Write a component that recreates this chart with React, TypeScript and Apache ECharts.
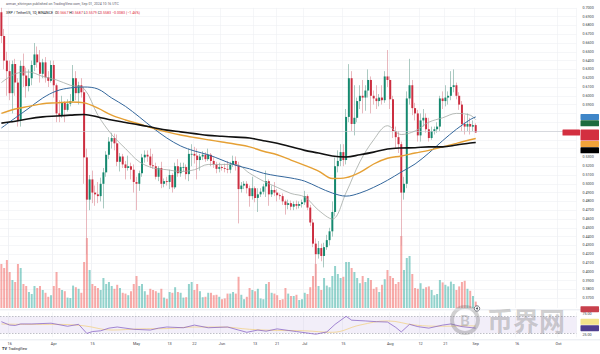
import React, { useEffect, useRef } from "react";
import * as echarts from "echarts";

// ---------- categories (daily) ----------
const FIRST_DAY = "2024-03-13";
const DAY_COUNT = 209; // through 2024-10-07 (empty space on the right)

// ---------- time-axis ticks ----------
const tickDates = ["2024-03-16", "2024-04-01", "2024-04-15", "2024-05-01", "2024-05-13", "2024-05-22", "2024-06-01", "2024-06-13", "2024-06-21", "2024-07-01", "2024-07-15", "2024-08-01", "2024-08-12", "2024-08-21", "2024-09-01", "2024-09-16", "2024-10-01"];
const tickLabels = ["16", "Apr", "15", "May", "13", "22", "Jun", "13", "21", "Jul", "15", "Aug", "12", "21", "Sep", "16", "Oct"];

// ---------- candles [open, close, low, high] ----------
const candlesMar = [
  [0.695, 0.668, 0.660, 0.700], [0.668, 0.640, 0.630, 0.676], [0.640, 0.628, 0.600, 0.650], [0.628, 0.603, 0.595, 0.640],
  [0.603, 0.636, 0.580, 0.640], [0.636, 0.615, 0.600, 0.642], [0.615, 0.572, 0.565, 0.620], [0.572, 0.634, 0.565, 0.640],
  [0.634, 0.623, 0.610, 0.648], [0.623, 0.611, 0.598, 0.632], [0.611, 0.620, 0.605, 0.630], [0.620, 0.635, 0.612, 0.640],
  [0.635, 0.647, 0.628, 0.660], [0.647, 0.638, 0.632, 0.656], [0.638, 0.625, 0.615, 0.652], [0.625, 0.638, 0.620, 0.642],
  [0.638, 0.621, 0.615, 0.644], [0.621, 0.617, 0.610, 0.628], [0.617, 0.635, 0.615, 0.640],
];
const candlesApr = [
  [0.635, 0.612, 0.598, 0.640], [0.612, 0.580, 0.570, 0.614], [0.580, 0.578, 0.570, 0.595], [0.578, 0.592, 0.575, 0.600],
  [0.592, 0.584, 0.570, 0.594], [0.584, 0.591, 0.582, 0.596], [0.591, 0.594, 0.588, 0.602], [0.594, 0.620, 0.592, 0.635],
  [0.620, 0.603, 0.595, 0.628], [0.603, 0.612, 0.590, 0.616], [0.612, 0.604, 0.598, 0.620], [0.604, 0.530, 0.500, 0.610],
  [0.530, 0.482, 0.420, 0.540], [0.482, 0.505, 0.470, 0.510], [0.505, 0.490, 0.478, 0.515], [0.490, 0.488, 0.475, 0.498],
  [0.488, 0.486, 0.478, 0.502], [0.486, 0.500, 0.480, 0.507], [0.500, 0.513, 0.472, 0.518], [0.513, 0.533, 0.508, 0.537],
  [0.533, 0.548, 0.528, 0.553], [0.548, 0.552, 0.540, 0.558], [0.552, 0.546, 0.538, 0.557], [0.546, 0.525, 0.520, 0.556],
  [0.525, 0.531, 0.514, 0.535], [0.531, 0.522, 0.518, 0.534], [0.522, 0.518, 0.505, 0.526], [0.518, 0.520, 0.515, 0.532],
  [0.520, 0.516, 0.505, 0.524], [0.516, 0.502, 0.490, 0.522],
];
const candlesMay = [
  [0.502, 0.500, 0.470, 0.508], [0.500, 0.512, 0.492, 0.515], [0.512, 0.530, 0.508, 0.534], [0.530, 0.533, 0.524, 0.538],
  [0.533, 0.531, 0.525, 0.538], [0.531, 0.521, 0.518, 0.540], [0.521, 0.520, 0.517, 0.534], [0.520, 0.508, 0.505, 0.524],
  [0.508, 0.518, 0.503, 0.520], [0.518, 0.500, 0.495, 0.525], [0.500, 0.503, 0.496, 0.506], [0.503, 0.502, 0.498, 0.508],
  [0.502, 0.510, 0.494, 0.516], [0.510, 0.496, 0.490, 0.512], [0.496, 0.520, 0.494, 0.524], [0.520, 0.512, 0.508, 0.528],
  [0.512, 0.519, 0.508, 0.524], [0.519, 0.519, 0.514, 0.524], [0.519, 0.511, 0.505, 0.522], [0.511, 0.534, 0.503, 0.540],
  [0.534, 0.534, 0.520, 0.545], [0.534, 0.532, 0.523, 0.542], [0.532, 0.527, 0.505, 0.540], [0.527, 0.531, 0.515, 0.534],
  [0.531, 0.533, 0.527, 0.537], [0.533, 0.528, 0.525, 0.536], [0.528, 0.533, 0.526, 0.540], [0.533, 0.526, 0.520, 0.535],
  [0.526, 0.522, 0.518, 0.530], [0.522, 0.517, 0.512, 0.525], [0.517, 0.519, 0.513, 0.524],
];
const candlesJun = [
  [0.519, 0.518, 0.515, 0.521], [0.518, 0.517, 0.513, 0.523], [0.517, 0.516, 0.512, 0.526], [0.516, 0.522, 0.512, 0.525],
  [0.522, 0.526, 0.519, 0.532], [0.526, 0.521, 0.515, 0.531], [0.521, 0.494, 0.455, 0.525], [0.494, 0.498, 0.490, 0.502],
  [0.498, 0.500, 0.494, 0.503], [0.500, 0.495, 0.489, 0.503], [0.495, 0.486, 0.474, 0.498], [0.486, 0.495, 0.482, 0.508],
  [0.495, 0.484, 0.479, 0.497], [0.484, 0.488, 0.468, 0.495], [0.488, 0.491, 0.485, 0.495], [0.491, 0.497, 0.488, 0.500],
  [0.497, 0.503, 0.485, 0.515], [0.503, 0.488, 0.475, 0.505], [0.488, 0.493, 0.485, 0.498], [0.493, 0.490, 0.486, 0.502],
  [0.490, 0.487, 0.480, 0.494], [0.487, 0.486, 0.482, 0.489], [0.486, 0.480, 0.476, 0.489], [0.480, 0.476, 0.465, 0.482],
  [0.476, 0.478, 0.471, 0.482], [0.478, 0.474, 0.470, 0.481], [0.474, 0.477, 0.470, 0.480], [0.477, 0.475, 0.471, 0.481],
  [0.475, 0.477, 0.472, 0.480], [0.477, 0.479, 0.473, 0.482],
];
const candlesJul = [
  [0.479, 0.486, 0.476, 0.492], [0.486, 0.473, 0.470, 0.488], [0.473, 0.456, 0.452, 0.476], [0.456, 0.432, 0.428, 0.460],
  [0.432, 0.420, 0.383, 0.438], [0.420, 0.427, 0.415, 0.435], [0.427, 0.418, 0.412, 0.432], [0.418, 0.428, 0.405, 0.433],
  [0.428, 0.436, 0.425, 0.442], [0.436, 0.446, 0.430, 0.450], [0.446, 0.468, 0.440, 0.480], [0.468, 0.520, 0.463, 0.530],
  [0.520, 0.526, 0.513, 0.538], [0.526, 0.536, 0.520, 0.545], [0.536, 0.527, 0.520, 0.545], [0.527, 0.576, 0.522, 0.585],
  [0.576, 0.620, 0.570, 0.636], [0.620, 0.568, 0.560, 0.628], [0.568, 0.575, 0.555, 0.612], [0.575, 0.594, 0.570, 0.598],
  [0.594, 0.600, 0.585, 0.612], [0.600, 0.598, 0.580, 0.618], [0.598, 0.606, 0.583, 0.612], [0.606, 0.618, 0.598, 0.630],
  [0.618, 0.600, 0.580, 0.622], [0.600, 0.597, 0.590, 0.606], [0.597, 0.594, 0.585, 0.612], [0.594, 0.598, 0.588, 0.602],
  [0.598, 0.595, 0.590, 0.612], [0.595, 0.622, 0.592, 0.628], [0.622, 0.618, 0.610, 0.652],
];
const candlesAug = [
  [0.618, 0.596, 0.585, 0.622], [0.596, 0.560, 0.552, 0.600], [0.560, 0.553, 0.540, 0.565], [0.553, 0.545, 0.535, 0.560],
  [0.545, 0.490, 0.430, 0.548], [0.490, 0.500, 0.482, 0.508], [0.500, 0.597, 0.495, 0.605], [0.597, 0.612, 0.590, 0.642],
  [0.612, 0.586, 0.578, 0.618], [0.586, 0.580, 0.572, 0.592], [0.580, 0.555, 0.548, 0.584], [0.555, 0.572, 0.548, 0.580],
  [0.572, 0.575, 0.565, 0.585], [0.575, 0.562, 0.558, 0.580], [0.562, 0.552, 0.548, 0.575], [0.552, 0.560, 0.550, 0.565],
  [0.560, 0.562, 0.556, 0.565], [0.562, 0.565, 0.558, 0.570], [0.565, 0.597, 0.560, 0.600], [0.597, 0.594, 0.585, 0.605],
  [0.594, 0.598, 0.588, 0.612], [0.598, 0.600, 0.590, 0.605], [0.600, 0.610, 0.595, 0.628], [0.610, 0.612, 0.604, 0.630],
  [0.612, 0.600, 0.596, 0.615], [0.600, 0.590, 0.584, 0.604], [0.590, 0.568, 0.560, 0.594], [0.568, 0.565, 0.556, 0.578],
  [0.565, 0.568, 0.560, 0.580], [0.568, 0.565, 0.556, 0.575], [0.565, 0.5666, 0.560, 0.572],
];
const candlesSep = [[0.5667, 0.5583, 0.5579, 0.5687]];

// ---------- volume (millions) ----------
const volumesMar = [1100, 1000, 1200, 900, 700, 650, 1100, 1000, 600, 550, 400, 350, 550, 500, 550, 450, 380, 280, 320];
const volumesApr = [550, 900, 500, 450, 420, 260, 250, 560, 520, 480, 380, 1150, 1750, 950, 600, 550, 500, 450, 750, 600, 650, 550, 480, 580, 500, 380, 360, 320, 420, 600];
const volumesMay = [800, 550, 600, 420, 330, 480, 450, 420, 380, 480, 260, 230, 400, 380, 520, 400, 380, 260, 270, 600, 650, 450, 600, 420, 270, 280, 380, 380, 320, 330, 280];
const volumesJun = [220, 240, 360, 360, 400, 360, 780, 330, 220, 280, 500, 450, 420, 480, 240, 220, 600, 650, 380, 360, 320, 200, 220, 500, 360, 300, 300, 330, 200, 220];
const volumesJul = [380, 350, 520, 800, 1100, 550, 450, 750, 560, 520, 800, 1050, 850, 750, 780, 1150, 1150, 1000, 900, 750, 620, 800, 650, 750, 700, 480, 520, 400, 580, 720, 950];
const volumesAug = [800, 750, 600, 650, 1800, 950, 1250, 1300, 850, 500, 480, 620, 480, 520, 540, 450, 320, 350, 700, 640, 580, 540, 660, 600, 450, 540, 650, 680, 480, 430, 300];
const volumesSep = [160];

// ---------- moving averages (read at sample dates) ----------
const maDates = ["2024-03-13", "2024-03-18", "2024-03-23", "2024-03-28", "2024-04-02", "2024-04-07", "2024-04-12", "2024-04-17", "2024-04-22", "2024-04-27", "2024-05-02", "2024-05-07", "2024-05-12", "2024-05-17", "2024-05-22", "2024-05-27", "2024-06-01", "2024-06-06", "2024-06-11", "2024-06-16", "2024-06-21", "2024-06-26", "2024-07-01", "2024-07-06", "2024-07-11", "2024-07-16", "2024-07-21", "2024-07-26", "2024-07-31", "2024-08-05", "2024-08-10", "2024-08-15", "2024-08-20", "2024-08-25", "2024-08-30", "2024-09-01"];
const ma20 = [0.615, 0.625, 0.627, 0.622, 0.618, 0.612, 0.608, 0.578, 0.556, 0.540, 0.525, 0.518, 0.516, 0.514, 0.516, 0.522, 0.522, 0.522, 0.512, 0.503, 0.496, 0.489, 0.485, 0.470, 0.460, 0.490, 0.525, 0.550, 0.566, 0.556, 0.560, 0.570, 0.575, 0.580, 0.578, 0.573];
const ma50 = [0.5634, 0.5748, 0.586, 0.5975, 0.6055, 0.609, 0.610, 0.6077, 0.5975, 0.588, 0.576, 0.5634, 0.552, 0.543, 0.5373, 0.533, 0.527, 0.521, 0.517, 0.512, 0.509, 0.5066, 0.503, 0.496, 0.4895, 0.486, 0.4895, 0.496, 0.504, 0.5134, 0.5225, 0.535, 0.549, 0.562, 0.573, 0.576];
const ma100 = [0.580, 0.585, 0.588, 0.591, 0.592, 0.593, 0.592, 0.586, 0.578, 0.5725, 0.568, 0.563, 0.559, 0.5555, 0.5526, 0.550, 0.5475, 0.545, 0.542, 0.537, 0.533, 0.527, 0.521, 0.5145, 0.506, 0.507, 0.513, 0.5225, 0.529, 0.5316, 0.535, 0.538, 0.542, 0.546, 0.550, 0.5515];
const ma200 = [0.569, 0.571, 0.574, 0.576, 0.577, 0.578, 0.5788, 0.576, 0.5725, 0.5697, 0.567, 0.564, 0.561, 0.559, 0.557, 0.555, 0.554, 0.553, 0.552, 0.549, 0.546, 0.542, 0.538, 0.535, 0.5316, 0.5305, 0.533, 0.536, 0.5395, 0.5407, 0.541, 0.542, 0.542, 0.544, 0.5464, 0.547];

// ---------- RSI ----------
const rsiDates = ["2024-03-13", "2024-03-16", "2024-03-18", "2024-03-20", "2024-03-24", "2024-03-31", "2024-04-06", "2024-04-10", "2024-04-13", "2024-04-15", "2024-04-18", "2024-04-21", "2024-04-24", "2024-04-30", "2024-05-06", "2024-05-09", "2024-05-12", "2024-05-18", "2024-05-22", "2024-05-27", "2024-06-03", "2024-06-07", "2024-06-10", "2024-06-14", "2024-06-17", "2024-06-21", "2024-06-25", "2024-06-28", "2024-07-03", "2024-07-05", "2024-07-09", "2024-07-12", "2024-07-16", "2024-07-18", "2024-07-23", "2024-07-27", "2024-07-31", "2024-08-03", "2024-08-05", "2024-08-08", "2024-08-11", "2024-08-15", "2024-08-20", "2024-08-23", "2024-08-27", "2024-09-01"];
const rsiValues = [57.5, 49.3, 48.4, 52, 52, 53.8, 46.5, 51.1, 29.2, 33.8, 35.6, 42, 44.7, 39.2, 37.4, 42, 44.7, 42.9, 49.3, 42.9, 44.7, 37.4, 32, 37.4, 34.7, 40.2, 36.5, 33.8, 29.2, 27.4, 32.9, 51.1, 70.3, 61.1, 59.3, 57.5, 56.6, 43.8, 32.9, 51.1, 45.6, 42, 49.3, 52, 45.6, 42];
const rsiMaDates = ["2024-03-13", "2024-03-23", "2024-04-02", "2024-04-12", "2024-04-22", "2024-05-02", "2024-05-12", "2024-05-22", "2024-06-01", "2024-06-11", "2024-06-21", "2024-07-01", "2024-07-11", "2024-07-21", "2024-07-31", "2024-08-10", "2024-08-20", "2024-08-30", "2024-09-01"];
const rsiMaValues = [52, 51, 51, 47.5, 37.4, 40.2, 41, 44.7, 44.7, 39.2, 36.5, 35.6, 32, 49.3, 59.3, 49.3, 46.5, 47.5, 47];

// ---------- axes ----------
const PRICE_MIN = 0.37;
const PRICE_MAX = 0.7;
const PRICE_STEP = 0.01;
const VOL_MAX = 2000;
const RSI_MIN = 20;
const RSI_MAX = 80;
const RSI_BANDS = [70, 30];
const RSI_LABELS = [75, 25];
const COUNTDOWN = "13:43:27";

// ---------- style ----------
const FONT = "Roboto, 'Liberation Sans', Arial, sans-serif";
const UP = "#15896f";
const DOWN = "#cc2e40";
const UP_WICK = "#86b3a8";
const DOWN_WICK = "#e09aa2";
const VOL_UP = "rgba(38,166,154,0.5)";
const VOL_DOWN = "rgba(239,83,80,0.5)";
const GRID_COLOR = "#eef0f4";
const GRID_RIGHT = 23.6;
const TEXT = "#3b3e46";

function buildDates(): string[] {
  const [y, m, d] = FIRST_DAY.split("-").map(Number);
  const out: string[] = [];
  for (let i = 0; i < DAY_COUNT; i++) {
    out.push(new Date(Date.UTC(y, m - 1, d + i)).toISOString().slice(0, 10));
  }
  return out;
}

export default function App() {
  const ref = useRef<HTMLDivElement>(null);

  useEffect(() => {
    document.body.style.margin = "0";
    const el = ref.current;
    if (!el) return;
    const chart = echarts.init(el, null, { renderer: "svg" });

    const dates = buildDates();
    const dateIndex: Record<string, number> = {};
    dates.forEach((d, i) => (dateIndex[d] = i));
    const tickSet = new Set(tickDates.map((d) => dateIndex[d]));
    const labelMap: Record<string, string> = {};
    tickDates.forEach((d, i) => (labelMap[d] = tickLabels[i]));
    const tickInterval = (i: number) => tickSet.has(i);

    const candles = [...candlesMar, ...candlesApr, ...candlesMay, ...candlesJun, ...candlesJul, ...candlesAug, ...candlesSep];
    const volumes = [...volumesMar, ...volumesApr, ...volumesMay, ...volumesJun, ...volumesJul, ...volumesAug, ...volumesSep];

    const pts = (ds: string[], vs: number[]) => ds.map((d, i) => [dateIndex[d], vs[i]]);

    const maLine = (name: string, vs: number[], color: string, width: number) => ({
      type: "line",
      name,
      xAxisIndex: 0,
      yAxisIndex: 0,
      data: pts(maDates, vs),
      smooth: 0.35,
      showSymbol: false,
      symbol: "none",
      silent: true,
      lineStyle: { color, width },
      z: 5,
    });

    const xAxes = [0, 1, 2].map((gi) => ({
      type: "category",
      gridIndex: gi,
      data: dates,
      boundaryGap: true,
      axisLine: { show: false },
      axisTick: { show: false, alignWithLabel: true, interval: tickInterval },
      axisLabel:
        gi === 2
          ? {
              show: true,
              interval: tickInterval,
              formatter: (v: string) => labelMap[v] || "",
              fontSize: 3.8,
              color: TEXT,
              fontFamily: FONT,
              margin: 4.5,
            }
          : { show: false },
      splitLine: { show: true, interval: tickInterval, lineStyle: { color: GRID_COLOR, width: 0.6 } },
    }));

    const priceFmt = (v: number) => v.toFixed(4);

    const option: any = {
      animation: false,
      backgroundColor: "#ffffff",
      grid: [
        { left: 0, right: GRID_RIGHT, top: 7.8, height: 290.4 },
        { left: 0, right: GRID_RIGHT, top: 228, height: 80 },
        { left: 0, right: GRID_RIGHT, top: 312.3, height: 25 },
      ],
      xAxis: xAxes,
      yAxis: [
        {
          type: "value",
          gridIndex: 0,
          position: "right",
          min: PRICE_MIN,
          max: PRICE_MAX,
          interval: PRICE_STEP,
          axisLine: { show: false },
          axisTick: { show: false },
          axisLabel: { fontSize: 3.7, color: TEXT, margin: 6, fontFamily: FONT, formatter: priceFmt },
          splitLine: { show: true, lineStyle: { color: GRID_COLOR, width: 0.6 } },
        },
        { type: "value", gridIndex: 1, min: 0, max: VOL_MAX, show: false, splitLine: { show: false } },
        {
          type: "value",
          gridIndex: 2,
          position: "right",
          min: RSI_MIN,
          max: RSI_MAX,
          interval: 5,
          axisLine: { show: false },
          axisTick: { show: false },
          axisLabel: {
            fontSize: 3.7,
            color: TEXT,
            margin: 6,
            fontFamily: FONT,
            formatter: (v: number) => (RSI_LABELS.includes(v) ? v.toFixed(2) : ""),
          },
          splitLine: { show: false },
        },
      ],
      series: [
        {
          type: "bar",
          name: "Volume",
          xAxisIndex: 1,
          yAxisIndex: 1,
          barWidth: "72%",
          silent: true,
          data: volumes.map((v, i) => ({
            value: v,
            itemStyle: { color: candles[i][1] >= candles[i][0] ? VOL_UP : VOL_DOWN },
          })),
          z: 1,
        },
        {
          type: "candlestick",
          name: "wicks",
          xAxisIndex: 0,
          yAxisIndex: 0,
          barWidth: 0.6,
          silent: true,
          data: candles,
          itemStyle: { color: UP_WICK, color0: DOWN_WICK, borderColor: UP_WICK, borderColor0: DOWN_WICK, borderWidth: 0.7 },
          markLine: {
            silent: true,
            symbol: "none",
            label: { show: false },
            lineStyle: { color: "#c3c6cd", width: 0.6, type: "solid" },
            data: [{ yAxis: candles[candles.length - 1][1] }],
          },
          z: 3,
        },
        {
          type: "custom",
          name: "bodies",
          xAxisIndex: 0,
          yAxisIndex: 0,
          silent: true,
          data: candles.map((c, i) => [i, c[0], c[1]]),
          encode: { x: 0, y: [1, 2] },
          renderItem: (params: any, api: any) => {
            const i = api.value(0);
            const o = api.value(1);
            const c = api.value(2);
            const p1 = api.coord([i, o]);
            const p2 = api.coord([i, c]);
            const w = api.size([1, 0])[0] * 0.72;
            const top = Math.min(p1[1], p2[1]);
            const h = Math.max(Math.abs(p1[1] - p2[1]), 0.8);
            return {
              type: "rect",
              shape: { x: p1[0] - w / 2, y: top, width: w, height: h },
              style: { fill: c >= o ? UP : DOWN },
            };
          },
          z: 4,
        },
        maLine("MA 20", ma20, "#a3aaa5", 0.8),
        maLine("MA 50", ma50, "#34679c", 1),
        maLine("MA 100", ma100, "#e5a035", 1.4),
        maLine("MA 200", ma200, "#111111", 1.6),
        {
          type: "line",
          name: "RSI",
          xAxisIndex: 2,
          yAxisIndex: 2,
          data: pts(rsiDates, rsiValues),
          showSymbol: false,
          symbol: "none",
          silent: true,
          lineStyle: { color: "#7e57c2", width: 0.7 },
          markArea: {
            silent: true,
            itemStyle: { color: "rgba(126,87,194,0.1)" },
            data: [[{ yAxis: RSI_BANDS[1] }, { yAxis: RSI_BANDS[0] }]],
          },
          markLine: {
            silent: true,
            symbol: "none",
            label: { show: false },
            lineStyle: { color: "#9598a1", width: 0.6, type: [1.5, 1.5] },
            data: RSI_BANDS.map((b) => ({ yAxis: b })),
          },
          z: 5,
        },
        {
          type: "line",
          name: "RSI MA",
          xAxisIndex: 2,
          yAxisIndex: 2,
          data: pts(rsiMaDates, rsiMaValues),
          smooth: 0.4,
          showSymbol: false,
          symbol: "none",
          silent: true,
          lineStyle: { color: "#f2cf7a", width: 0.7 },
          z: 4,
        },
      ],
    };

    chart.setOption(option);

    // ----- overlay graphics: header, badges, watermark -----
    const last = candles[candles.length - 1];
    const prevClose = candles[candles.length - 2][1];
    const chg = last[1] - prevClose;
    const pct = (chg / prevClose) * 100;
    const sign = chg >= 0 ? "+" : "\u2212";
    const f4 = (v: number) => v.toFixed(4);

    const graphics: any[] = [];
    const txt = (x: number, y: number, text: string, opts: any = {}) => ({
      type: "text",
      x,
      y,
      z: 100,
      silent: true,
      style: {
        text,
        fill: opts.fill || TEXT,
        fontSize: opts.fontSize || 3.6,
        fontFamily: opts.fontFamily || FONT,
        fontWeight: opts.fontWeight || "normal",
        align: opts.align || "left",
        textAlign: opts.align || "left",
        verticalAlign: "middle",
        textVerticalAlign: "middle",
        rich: opts.rich,
      },
    });

    graphics.push(
      txt(6, 4, "arman_shirinyan published on TradingView.com, Sep 01, 2024 10:16 UTC", { fill: "#5d606b", fontSize: 3.5 })
    );
    graphics.push(
      txt(
        6,
        12.5,
        `{s|XRP / TetherUS, 1D, BINANCE}  {k|O}{v|${f4(last[0])}} {k|H}{v|${f4(last[3])}} {k|L}{v|${f4(last[2])}} {k|C}{v|${f4(last[1])}} {v|${sign}${f4(Math.abs(chg))} (${sign}${Math.abs(pct).toFixed(2)}%)}`,
        {
          fontSize: 3.6,
          rich: {
            s: { fill: "#131722", fontSize: 3.6, fontFamily: FONT },
            k: { fill: "#131722", fontSize: 3.6, fontFamily: FONT },
            v: { fill: "#e0303f", fontSize: 3.6, fontFamily: FONT },
          },
        }
      )
    );

    // pane separators
    [309.8, 339.8].forEach((y) =>
      graphics.push({
        type: "line",
        z: 90,
        silent: true,
        shape: { x1: 0, y1: y, x2: 600, y2: y },
        style: { stroke: "#e0e3eb", lineWidth: 0.8 },
      })
    );

    // badge helpers
    type Badge = { y: number; color: string; textColor: string; lines: string[]; top?: number; h?: number };
    const layoutDown = (list: Badge[]) => {
      list.sort((a, b) => a.y - b.y);
      let bottom = -Infinity;
      list.forEach((b) => {
        b.h = b.lines.length * 5 + 1;
        let top = b.y - 3;
        if (top < bottom + 0.4) top = bottom + 0.4;
        b.top = top;
        bottom = top + b.h;
      });
    };
    const layoutUp = (list: Badge[]) => {
      list.sort((a, b) => b.y - a.y);
      let limit = Infinity;
      list.forEach((b) => {
        b.h = b.lines.length * 5 + 1;
        let top = b.y - 3;
        if (top + b.h > limit - 0.4) top = limit - 0.4 - b.h;
        b.top = top;
        limit = top;
      });
    };
    const drawBadge = (b: Badge) => {
      graphics.push({
        type: "rect",
        z: 110,
        silent: true,
        shape: { x: 580.5, y: b.top, width: 18.5, height: b.h, r: 0.6 },
        style: { fill: b.color },
      });
      b.lines.forEach((line, k) =>
        graphics.push(txt(589.75, (b.top as number) + 3 + k * 5, line, { fill: b.textColor, fontSize: 3.5, align: "center" }))
      );
    };

    const yPrice = (v: number) => chart.convertToPixel({ yAxisIndex: 0 }, v) as number;
    const yVol = (v: number) => chart.convertToPixel({ yAxisIndex: 1 }, v) as number;
    const yRsi = (v: number) => chart.convertToPixel({ yAxisIndex: 2 }, v) as number;

    const lastOf = (a: number[]) => a[a.length - 1];
    const priceBadges: Badge[] = [
      { y: yPrice(lastOf(ma50)), color: "#3f86c8", textColor: "#ffffff", lines: [f4(lastOf(ma50))] },
      { y: yPrice(lastOf(ma20)), color: "#1d6b3f", textColor: "#ffffff", lines: [f4(lastOf(ma20))] },
      { y: yPrice(last[1]), color: "#d32f40", textColor: "#ffffff", lines: [f4(last[1]), COUNTDOWN] },
      { y: yPrice(lastOf(ma100)), color: "#f0a33a", textColor: "#ffffff", lines: [f4(lastOf(ma100))] },
      { y: yPrice(lastOf(ma200)), color: "#000000", textColor: "#ffffff", lines: [f4(lastOf(ma200))] },
    ];
    layoutDown(priceBadges);
    priceBadges.forEach(drawBadge);
    const redBadge = priceBadges.find((b) => b.color === "#d32f40") as Badge;
    graphics.push({
      type: "rect",
      z: 110,
      silent: true,
      shape: { x: 562.5, y: redBadge.top, width: 17.5, height: 6, r: 0.6 },
      style: { fill: "#d32f40" },
    });
    graphics.push(txt(571.25, (redBadge.top as number) + 3, "XRPUSDT", { fill: "#ffffff", fontSize: 3.3, align: "center" }));

    // volume badge sits below the lowest price label
    const volBadge: Badge = { y: yVol(lastOf(volumes)), color: "#c8404c", textColor: "#ffffff", lines: [`${lastOf(volumes).toFixed(2)}M`] };
    volBadge.h = 6;
    volBadge.top = Math.max(volBadge.y - 3, yPrice(PRICE_MIN) + 8);
    drawBadge(volBadge);

    const rsiBadges: Badge[] = [
      { y: yRsi(lastOf(rsiMaValues)), color: "#f3e48a", textColor: "#3b3e46", lines: [lastOf(rsiMaValues).toFixed(2)] },
      { y: yRsi(lastOf(rsiValues)), color: "#4f3f8f", textColor: "#ffffff", lines: [lastOf(rsiValues).toFixed(2)] },
    ];
    layoutUp(rsiBadges);
    rsiBadges.forEach(drawBadge);

    // hide price-axis labels that are covered by badges
    const covered = (y: number) =>
      [...priceBadges, volBadge].some((b) => y > (b.top as number) - 2.2 && y < (b.top as number) + (b.h as number) + 2.2);
    chart.setOption({
      yAxis: [
        {
          axisLabel: {
            formatter: (v: number) => (covered(yPrice(v)) ? "" : priceFmt(v)),
          },
        },
      ],
    });

    // event marker
    graphics.push({
      type: "circle",
      z: 95,
      silent: true,
      shape: { cx: 477, cy: 308.5, r: 2.7 },
      style: { fill: "#ffffff", stroke: "#50535e", lineWidth: 0.8 },
    });
    graphics.push({
      type: "circle",
      z: 96,
      silent: true,
      shape: { cx: 477, cy: 308.5, r: 1 },
      style: { fill: "#50535e" },
    });

    // watermark
    graphics.push({
      type: "ring",
      z: 80,
      silent: true,
      shape: { cx: 465, cy: 320, r: 15, r0: 11 },
      style: { fill: "rgba(110,110,110,0.32)" },
    });
    graphics.push(txt(465, 320.5, "B", { fill: "rgba(110,110,110,0.32)", fontSize: 15, fontWeight: "bold", align: "center" }));
    graphics.push(
      txt(487, 319.5, "币界网", {
        fill: "rgba(110,110,110,0.32)",
        fontSize: 26,
        fontWeight: "bold",
        fontFamily: "'Noto Sans CJK SC', sans-serif",
      })
    );

    // TradingView logo
    graphics.push(txt(2, 348.5, "TV", { fill: "#131722", fontSize: 3.8, fontWeight: "bold" }));
    graphics.push(txt(8.5, 348.5, "TradingView", { fill: "#131722", fontSize: 3.4 }));

    chart.setOption({ graphic: graphics });

    return () => chart.dispose();
  }, []);

  return <div ref={ref} style={{ width: 600, height: 354 }} />;
}
